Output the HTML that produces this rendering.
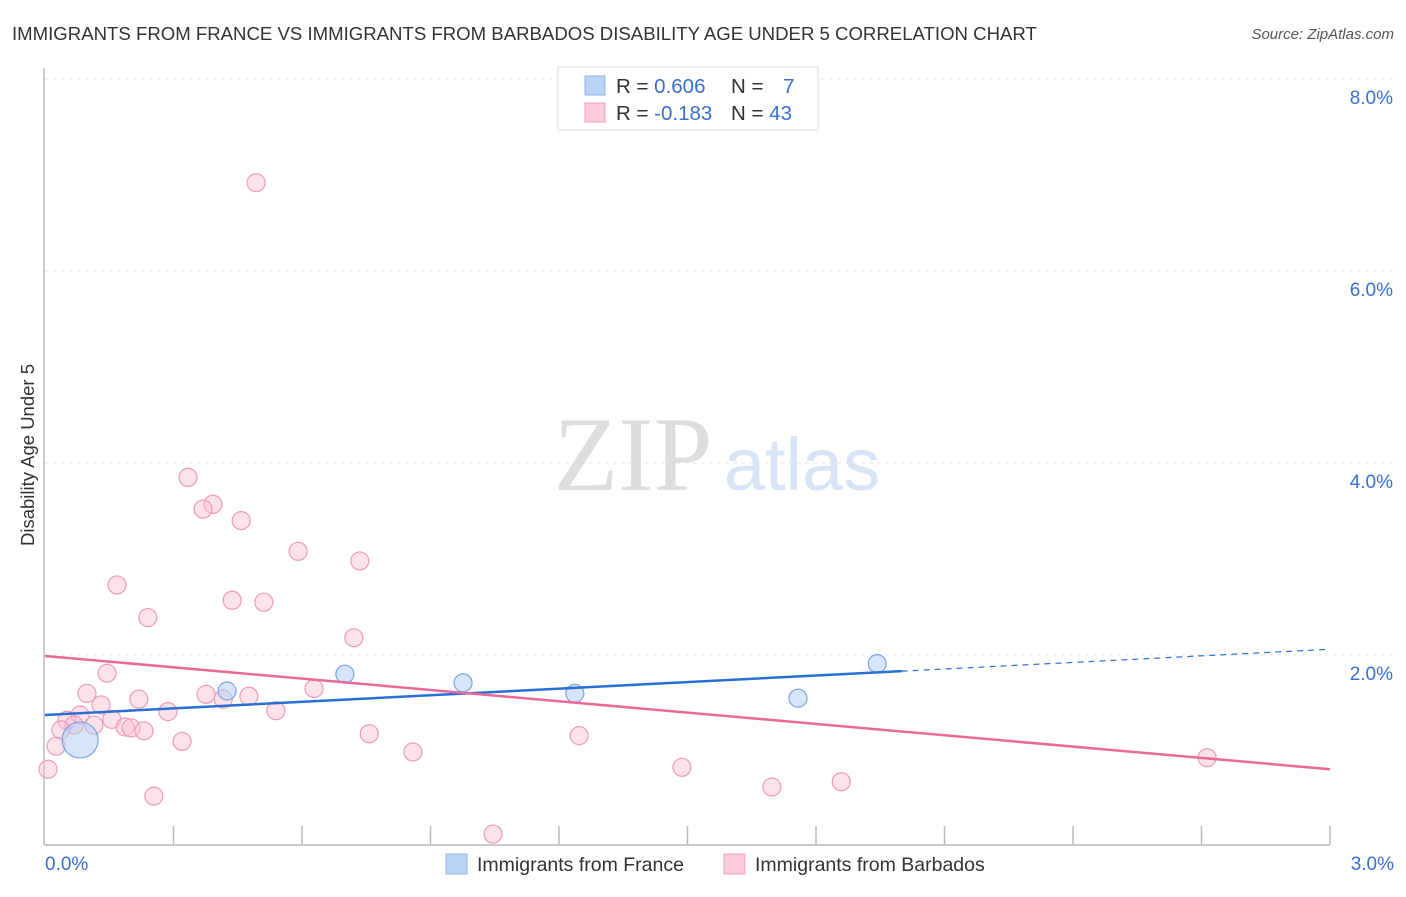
<!DOCTYPE html>
<html><head><meta charset="utf-8"><style>
body{margin:0;background:#fff;font-family:"Liberation Sans",sans-serif}
svg text{font-family:"Liberation Sans",sans-serif}
</style></head><body>
<svg width="1406" height="892">
<text x="12" y="40" font-size="18.6" fill="#333">IMMIGRANTS FROM FRANCE VS IMMIGRANTS FROM BARBADOS DISABILITY AGE UNDER 5 CORRELATION CHART</text>
<text x="1394" y="39" font-size="15" fill="#555" text-anchor="end" font-style="italic">Source: ZipAtlas.com</text>
<g id="grid"></g>
<text x="633" y="490" font-size="106" fill="#ddd" text-anchor="middle" style="font-family:'Liberation Serif',serif">ZIP</text>
<text x="802" y="490" font-size="74" fill="#d6e4f5" text-anchor="middle">atlas</text>
<text x="34" y="455" font-size="18.5" fill="#333" text-anchor="middle" transform="rotate(-90 34 455)">Disability Age Under 5</text>
<g id="points"></g>
<g id="lines"></g>
<g>
<rect x="558" y="67" width="260" height="63" fill="#fff" stroke="#ddd"/>
<rect x="585" y="76" width="20" height="19" fill="#b9d3f5" stroke="#8fb4e6"/>
<rect x="585" y="103" width="20" height="19" fill="#fccad8" stroke="#f0a0b8"/>
<text x="616" y="93" font-size="20.5" fill="#333">R = <tspan fill="#3a6fd0">0.606</tspan></text>
<text x="731" y="93" font-size="20.5" fill="#333">N = <tspan fill="#3a6fd0" dx="14">7</tspan></text>
<text x="616" y="120" font-size="20.5" fill="#333">R = <tspan fill="#3a6fd0">-0.183</tspan></text>
<text x="731" y="120" font-size="20.5" fill="#333">N = <tspan fill="#3a6fd0">43</tspan></text>
</g>
<g>
<rect x="446" y="854" width="21" height="20" fill="#b9d3f5" stroke="#8fb4e6"/>
<text x="477" y="871" font-size="19.5" fill="#333">Immigrants from France</text>
<rect x="724" y="854" width="21" height="20" fill="#fccad8" stroke="#f0a0b8"/>
<text x="755" y="871" font-size="19.5" fill="#333">Immigrants from Barbados</text>
</g>
</svg>
<script>
const yTicks=[2,4,6,8];
const xTickLabels=["0.0%","3.0%"];
const franceX=[0.082,0.425,0.700,0.976,1.237,1.758,1.943];
const franceY=[1.115,1.625,1.80,1.71,1.60,1.55,1.91];
const franceR=[18,9,9,9,9,9,9];
const barbX=[0.493,0.334,0.392,0.369,0.458,0.591,0.735,0.168,0.437,0.511,0.240,0.721,0.145,0.098,0.628,0.219,0.376,0.476,0.416,0.131,0.287,0.539,0.082,0.156,0.051,0.114,0.068,0.037,0.187,0.201,0.231,0.026,0.320,0.757,1.247,0.859,0.007,0.254,1.487,1.859,1.697,1.046,2.713];
const barbY=[6.92,3.85,3.57,3.52,3.40,3.08,2.98,2.73,2.57,2.55,2.39,2.18,1.81,1.60,1.65,1.54,1.59,1.57,1.54,1.48,1.41,1.42,1.375,1.33,1.32,1.27,1.27,1.22,1.25,1.24,1.21,1.05,1.10,1.18,1.16,0.99,0.81,0.53,0.83,0.68,0.625,0.135,0.93];
const franceTrend=[1.375,2.06];
const franceSolidEnd=2.0;
const barbTrend=[1.99,0.81];
const X=v=>45+v*1285/3, Y=v=>847-v*96;
const NS="http://www.w3.org/2000/svg";
function mk(t,a,p){const e=document.createElementNS(NS,t);for(const k in a)e.setAttribute(k,a[k]);p.appendChild(e);return e;}
const grid=document.getElementById('grid');
mk('line',{x1:44,y1:68,x2:44,y2:845,stroke:'#bbb','stroke-width':1.5},grid);
mk('line',{x1:44,y1:845,x2:1330,y2:845,stroke:'#bbb','stroke-width':1.5},grid);
yTicks.forEach(t=>{
 const l=mk('line',{x1:45,y1:Y(t),x2:1394,y2:Y(t),stroke:'#e4e4e4','stroke-dasharray':'4,4'},grid);
 
 
 const tx=mk('text',{x:1393,y:Y(t)+25,'font-size':19,fill:'#3a6fd0','text-anchor':'end'},grid);
 tx.textContent=t.toFixed(1)+'%';
 
 
});
for(let i=1;i<=10;i++){
 const l=mk('line',{x1:X(i*0.3),y1:826,x2:X(i*0.3),y2:845,stroke:'#bbb','stroke-width':1.5},grid);
 
 
}
[[0,'start',45],[3,'end',1394]].forEach((d,i)=>{
 const tx=mk('text',{x:d[2],y:870,'font-size':19,fill:'#3a6fd0','text-anchor':d[1]},grid);
 tx.textContent=xTickLabels[i];
 
 
});
const pts=document.getElementById('points');
barbX.forEach((v,i)=>{
 const c=mk('circle',{cx:X(v),cy:Y(barbY[i]),r:9,fill:'rgba(250,190,210,0.45)',stroke:'#ec9bb6','stroke-width':1.2},pts);
 
 
});
franceX.forEach((v,i)=>{
 const c=mk('circle',{cx:X(v),cy:Y(franceY[i]),r:franceR[i],fill:'rgba(180,208,245,0.55)',stroke:'#7aa5e0','stroke-width':1.2},pts);
 
 
});
const ln=document.getElementById('lines');
const fy=x=>franceTrend[0]+(franceTrend[1]-franceTrend[0])*x/3;
let a=mk('line',{x1:X(0),y1:Y(fy(0)),x2:X(franceSolidEnd),y2:Y(fy(franceSolidEnd)),stroke:'#2a6fd4','stroke-width':2.5},ln);


a=mk('line',{x1:X(franceSolidEnd),y1:Y(fy(franceSolidEnd)),x2:X(3),y2:Y(fy(3)),stroke:'#2a6fd4','stroke-width':1.2,'stroke-dasharray':'6,5'},ln);


a=mk('line',{x1:X(0),y1:Y(barbTrend[0]),x2:X(3),y2:Y(barbTrend[1]),stroke:'#e8699a','stroke-width':2.5},ln);


</script>
</body></html>
